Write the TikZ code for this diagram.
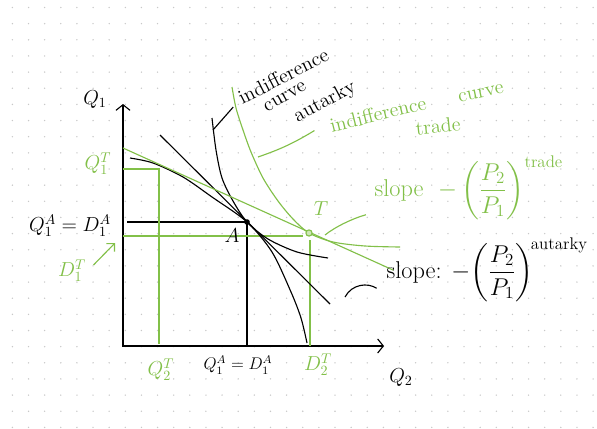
\documentclass[tikz,border=0pt]{standalone}
\usepackage{amsmath, amssymb}
\usetikzlibrary{arrows.meta, positioning}
\definecolor{tradec}{RGB}{130,192,72}
\definecolor{gridc}{RGB}{200,200,200}

\begin{document}
\begin{tikzpicture}[x=0.025cm,y=-0.025cm,
    ink/.style={black,line width=0.8pt},
    tink/.style={tradec,line width=0.8pt},
    lbl/.style={font=\Large,inner sep=1pt},
    tlbl/.style={font=\Large,inner sep=1pt,text=tradec},
    barb/.style={-{Straight Barb[length=4pt,width=8pt]}}]
			% paper and dot grid
			\fill[white] (0,0) rectangle (597,428);
			\useasboundingbox (0,0) rectangle (597,428);
			\foreach \i in {0,...,36}
			  \foreach \j in {0,...,26}
			    \fill[gridc] (12.4+16.13*\i,7.5+16.15*\j) circle (0.55pt);
			% axis
			\coordinate (O) at (123,346);
			\coordinate (ytip) at (123,104);
			\coordinate (xtip) at (384,346);
			\draw[ink,{Straight Barb[length=4pt,width=10pt]}-{Straight Barb[length=4pt,width=10pt]}] (ytip) -- (O) -- (xtip);
			\node[lbl] (qone) at (95,100) {$Q_1$};
			\node[lbl] (qtwo) at (401,378) {$Q_2$};
			% equilibrium points
			\coordinate (A) at (247,222);
			\coordinate (T) at (309,233);
			% autarky guide lines
			\draw[ink] (127,222) -- (A) -- (247,346);
			% trade guide lines
			\draw[tink] (123,169) -- (159,169) -- (159,344);
			\draw[tink] (123,236) -- (303,236);
			\draw[tink] (310,240) -- (310,346);
			% production frontier
			\draw[ink] plot[smooth] coordinates {(130,158) (153,163) (183,177) (212,197) (247,222) (272,252) (291,292) (301,318) (307,343)};
			% autarky indifference curve
			\draw[ink] plot[smooth] coordinates {(212,118) (216,150) (222,178) (233,201) (247,222) (268,239) (297,252) (328,258)};
			% autarky price line
			\draw[ink] (160,135) -- (330,304);
			% trade price line
			\draw[tink] (123,148) -- (393,270);
			% trade indifference curve
			\draw[tink] plot[smooth] coordinates {(232,87) (236,108) (243,130) (251,152) (263,178) (278,201) (293,219) (309,233) (333,242) (365,246) (400,247)};
			% marks
			\fill (A) circle (2pt);
			\draw[tradec,fill=tradec!40,line width=0.8pt] (T) circle (2.2pt);
			% axis labels
			\node[tlbl] (qoneT) at (98,164) {$Q_1^{T}$};
			\node[lbl] (qoneA) at (70,226) {$Q_1^{A}=D_1^{A}$};
			\node[tlbl] (doneT) at (72,271) {$D_1^{T}$};
			\coordinate (doneTtip) at (115,243);
			\draw[tink,barb,shorten <=6pt] (doneT.east) -- (doneTtip);
			\node[lbl] (Alab) at (232,236) {$A$};
			\node[tlbl] (Tlab) at (321,209) {$T$};
			\node[tlbl] (qtwoT) at (161,370) {$Q_2^{T}$};
			\node[inner sep=1pt,font=\large] (qtwoA) at (238,365) {$Q_1^{A}=D_1^{A}$};
			\node[tlbl] (dtwoT) at (318,365) {$D_2^{T}$};
			% slopes
			\node[tlbl,font=\LARGE,anchor=west] (slopeT) at (373,188) {slope \ $-\left(\dfrac{P_2}{P_1}\right)^{\text{trade}}$};
			\coordinate (Tptr) at (325,235);
			\draw[tink] ([shift={(-5pt,-19pt)}]slopeT.west) .. controls +(-14,4) and +(10,-8) .. (Tptr);
			\node[lbl,font=\LARGE,anchor=west] (slopeA) at (385,270) {slope: $-\!\left(\dfrac{P_2}{P_1}\right)^{\!\text{autarky}}$};
			\coordinate (Aptr) at (345,297);
			\draw[ink] (Aptr) .. controls +(7,-13) and +(-9,-6) .. ([shift={(-6pt,-13pt)}]slopeA.west);
			% indifference curve labels
			\node[lbl,rotate=27] (icA1) at (283,76) {indifference};
			\node[lbl,rotate=30] (icA2) at (285,97) {curve};
			\node[lbl,rotate=28] (icA3) at (325,102) {autarky};
			\coordinate (icAptr) at (213,130);
			\draw[ink] ([xshift=-6pt]icA1.south west) -- (icAptr);
			\node[tlbl,rotate=14] (icT1) at (378,114) {indifference};
			\node[tlbl,rotate=12] (icT2) at (481,93) {curve};
			\node[tlbl,rotate=6] (icT3) at (438,126) {trade};
			\coordinate (icTptr) at (258,157);
			\draw[tink] ([shift={(-10pt,-3pt)}]icT1.west) to[bend left=6] (icTptr);
		\end{tikzpicture}
\end{document}
